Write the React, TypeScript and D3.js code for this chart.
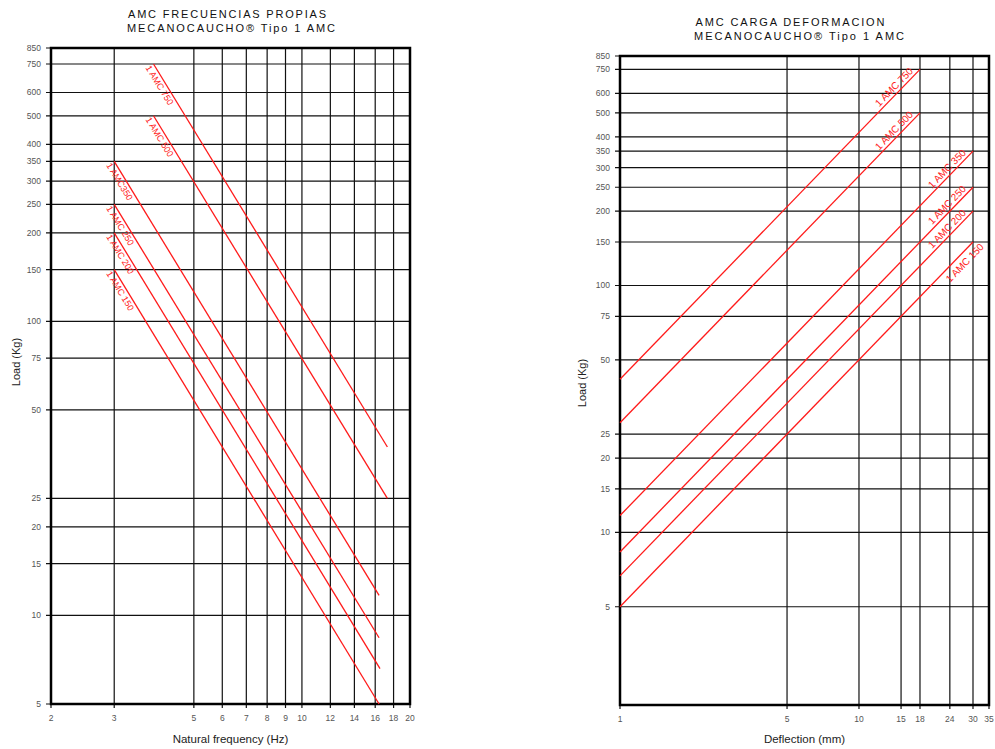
import React from 'react'
import * as d3 from 'd3'

const WIDTH = 995
const HEIGHT = 749
const FONT = '"Liberation Sans", Arial, sans-serif'

// tick values
const loadTicks = [5, 10, 15, 20, 25, 50, 75, 100, 150, 200, 250, 300, 350, 400, 500, 600, 750, 850]
const freqTicks = [2, 3, 5, 6, 7, 8, 9, 10, 12, 14, 16, 18, 20]
const deflTicks = [1, 5, 10, 15, 18, 24, 30, 35]

// natural frequency chart: [Hz, Kg] at both ends of every line
const freqNames = ['1 AMC 750', '1 AMC 500', '1 AMC350', '1 AMC 250', '1 AMC 200', '1 AMC 150']
const freqStart = [[3.86, 750], [3.86, 500], [3, 350], [3, 250], [3, 200], [3, 150]]
const freqEnd = [[17.3, 37.4], [17.3, 25], [16.4, 11.7], [16.4, 8.4], [16.5, 6.6], [16.4, 5]]

// load / deflection chart: [mm, Kg]
const deflNames = ['1 AMC 750', '1 AMC 500', '1 AMC 350', '1 AMC 250', '1 AMC 200', '1 AMC 150']
const deflStart = [[1, 41.7], [1, 27.8], [1, 11.7], [1, 8.33], [1, 6.67], [1, 5]]
const deflEnd = [[18, 750], [18, 500], [30, 350], [30, 250], [30, 200], [30, 150]]

type Panel = {
  left: number
  right: number
  top: number
  bottom: number
  xDomain: [number, number]
  yDomain: [number, number]
  xTicks: number[]
  title: [string, string]
  titleX: [number, number]
  titleW: [number, number]
  titleY: [number, number]
  xLabel: string
  yLabelX: number
  yLabelY: number
  names: string[]
  starts: number[][]
  ends: number[][]
  labelAtEnd: boolean
}

function Chart({ p }: { p: Panel }) {
  const x = d3.scaleLog().domain(p.xDomain).range([p.left, p.right])
  const y = d3.scaleLog().domain(p.yDomain).range([p.bottom, p.top])
  const line = d3.line<number[]>().x(d => x(d[0])).y(d => y(d[1]))
  const innerX = p.xTicks.filter(t => t !== p.xDomain[0] && t !== p.xDomain[1])

  return (
    <g fontFamily={FONT}>
      {p.title.map((t, i) => (
        <text key={t} x={p.titleX[i]} y={p.titleY[i]} fontSize={11} fill="#111"
          textAnchor="middle" textLength={p.titleW[i]} lengthAdjust="spacing">{t}</text>
      ))}

      {loadTicks.map(t => (
        <g key={'y' + t}>
          <line x1={p.left - 5} x2={p.right} y1={y(t)} y2={y(t)} stroke="#111" strokeWidth={1.2} />
          <text x={p.left - 10} y={y(t) + 3} fontSize={8.5} fill="#555" textAnchor="end">{t}</text>
        </g>
      ))}

      {innerX.map(t => (
        <line key={'gx' + t} x1={x(t)} x2={x(t)} y1={p.top} y2={p.bottom} stroke="#111" strokeWidth={1.2} />
      ))}
      {p.xTicks.map(t => (
        <g key={'x' + t}>
          <line x1={x(t)} x2={x(t)} y1={p.bottom} y2={p.bottom + 4} stroke="#111" strokeWidth={1.2} />
          <text x={x(t)} y={p.bottom + 17} fontSize={8.5} fill="#555" textAnchor="middle">{t}</text>
        </g>
      ))}

      <rect x={p.left} y={p.top} width={p.right - p.left} height={p.bottom - p.top}
        fill="none" stroke="#000" strokeWidth={2.5} />

      {p.names.map((name, i) => {
        const a = p.starts[i]
        const b = p.ends[i]
        const x0 = x(a[0]), y0 = y(a[1]), x1 = x(b[0]), y1 = y(b[1])
        const ang = Math.atan2(y1 - y0, x1 - x0) * 180 / Math.PI
        let lbl
        if (p.labelAtEnd) {
          const below = name.endsWith('150')
          lbl = (
            <text transform={`translate(${x1},${y1}) rotate(${ang})`} x={below ? 4 : -6} y={below ? 12 : -3}
              fontSize={10} fill="#f22" textAnchor="end">{name}</text>
          )
        } else {
          lbl = (
            <text transform={`translate(${x0},${y0}) rotate(${ang})`} x={-1} y={9}
              fontSize={9} fill="#f22">{name}</text>
          )
        }
        return (
          <g key={name + i}>
            <path d={line([a, b]) || ''} stroke="#ff1a1a" strokeWidth={1.3} fill="none" />
            {lbl}
          </g>
        )
      })}

      <text x={(p.left + p.right) / 2} y={HEIGHT - 6} fontSize={11.5} fill="#222" textAnchor="middle">{p.xLabel}</text>
      <text transform={`translate(${p.yLabelX},${p.yLabelY}) rotate(-90)`} fontSize={11} fill="#222"
        textAnchor="middle">Load (Kg)</text>
    </g>
  )
}

const freqPanel: Panel = {
  left: 51, right: 410, top: 48, bottom: 704,
  xDomain: [2, 20], yDomain: [5, 850], xTicks: freqTicks,
  title: ['AMC FRECUENCIAS PROPIAS', 'MECANOCAUCHO\u00ae Tipo 1 AMC'],
  titleX: [227, 231], titleW: [198, 208], titleY: [18, 32],
  xLabel: 'Natural frequency (Hz)', yLabelX: 20, yLabelY: 362,
  names: freqNames, starts: freqStart, ends: freqEnd, labelAtEnd: false,
}

const deflPanel: Panel = {
  left: 620, right: 989, top: 56, bottom: 705,
  xDomain: [1, 35], yDomain: [2, 850], xTicks: deflTicks,
  title: ['AMC CARGA DEFORMACION', 'MECANOCAUCHO\u00ae Tipo 1 AMC'],
  titleX: [790, 799], titleW: [189, 210], titleY: [26, 40],
  xLabel: 'Deflection (mm)', yLabelX: 586, yLabelY: 383,
  names: deflNames, starts: deflStart, ends: deflEnd, labelAtEnd: true,
}

export default function App() {
  return (
    <svg width={WIDTH} height={HEIGHT} style={{ position: 'absolute', left: 0, top: 0, background: '#fff' }}>
      <Chart p={freqPanel} />
      <Chart p={deflPanel} />
    </svg>
  )
}
